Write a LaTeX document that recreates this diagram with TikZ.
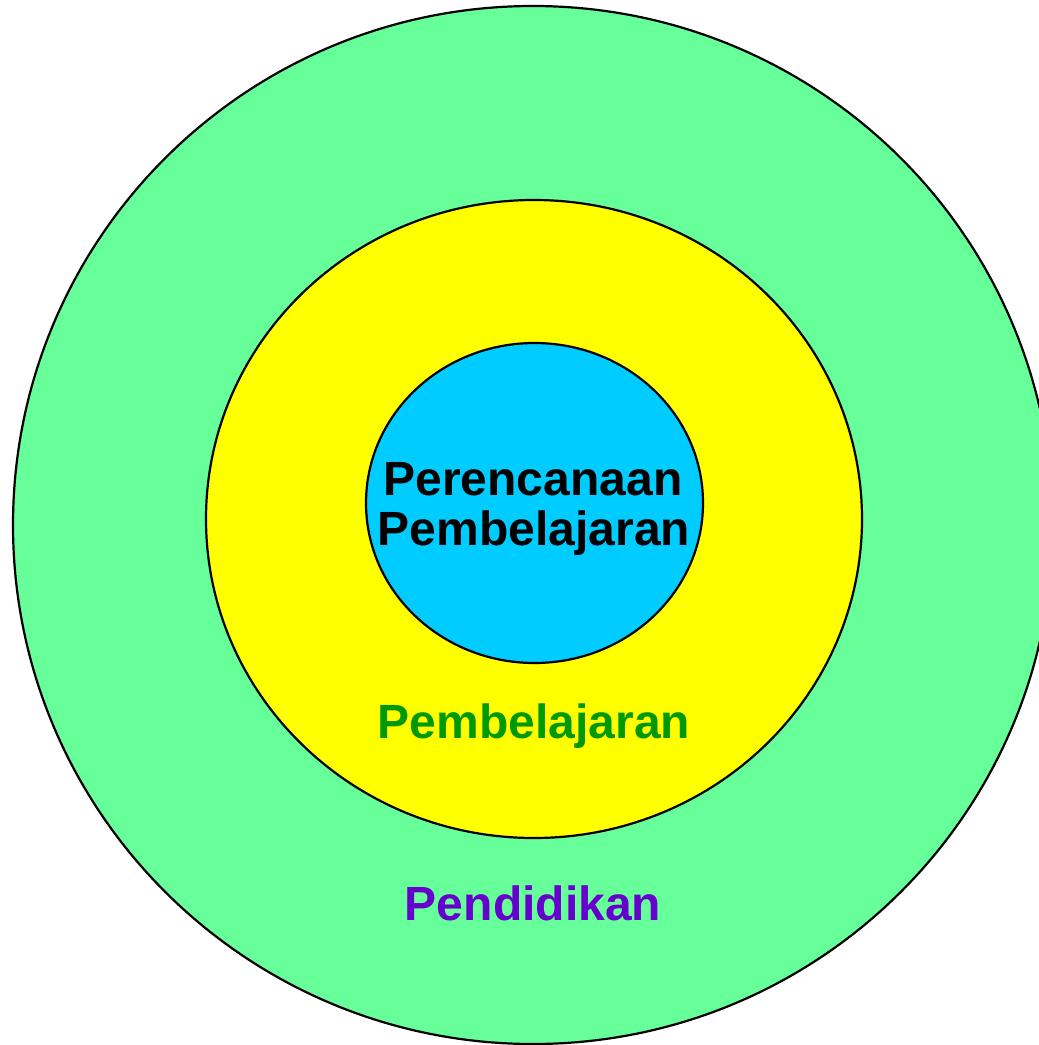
\documentclass[tikz,border=0pt]{standalone}
\usepackage{fontspec}
\setmainfont{Liberation Sans}
\usepackage{xcolor}
\usetikzlibrary{positioning}

\definecolor{outergreen}{HTML}{66FF99}
\definecolor{midyellow}{HTML}{FFFF00}
\definecolor{innerblue}{HTML}{00CCFF}
\definecolor{textgreen}{HTML}{009900}
\definecolor{textpurple}{HTML}{6600CC}

\begin{document}
\begin{tikzpicture}[x=1pt,y=-1pt,line join=round,
  ring/.style={draw=black,line width=2.2pt},
  ringtext/.style={font=\fontsize{48}{50}\selectfont\bfseries,inner sep=0pt,anchor=base}]

  % ===== canvas =====
  \useasboundingbox (0,0) rectangle (1039,1045);
  \clip (0,0) rectangle (1039,1045);

  %% ---------------------------------------------------------------
  %% rings, outer to inner
  %% ---------------------------------------------------------------
  \filldraw[ring,fill=outergreen] (533,525) ellipse (520 and 519);
  \filldraw[ring,fill=midyellow] (534,519) ellipse (328 and 319);
  \filldraw[ring,fill=innerblue] (534.5,503) ellipse (168.5 and 160);

  %% ---------------------------------------------------------------
  %% labels
  %% ---------------------------------------------------------------
  \node[ringtext] (rencana) at (533,495) {Perencanaan};
  \node[ringtext] (belajar) at (534,545) {Pembelajaran};
  \node[ringtext,text=textgreen] (pembelajaran) at (534,738) {Pembelajaran};
  \node[ringtext,text=textpurple] (pendidikan) at (533,920) {Pendidikan};

\end{tikzpicture}
\end{document}
